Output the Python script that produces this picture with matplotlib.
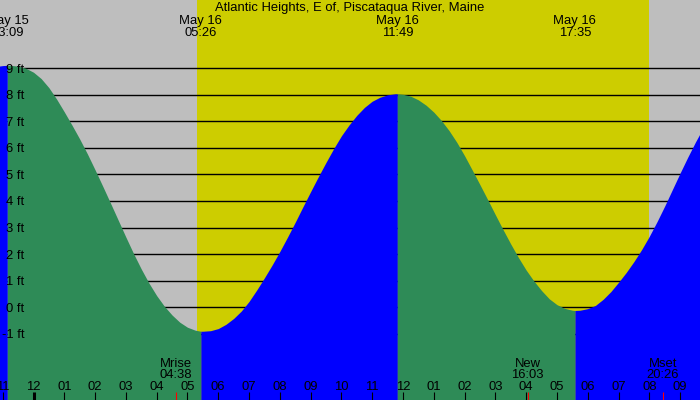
import numpy as np
import matplotlib
matplotlib.use("Agg")
import matplotlib.pyplot as plt
import matplotlib.transforms as mtransforms

plt.rcParams['font.family'] = ['Liberation Sans', 'DejaVu Sans']
plt.rcParams['font.size'] = 9.4

station = "Atlantic Heights, E of, Piscataqua River, Maine"

# tide heights (ft) read every 15 minutes, from May 15 22:30 to May 16 22:00
heights = [9.0, 9.05, 9.09, 9.1, 9.07, 8.99, 8.84,
           8.60, 8.26, 7.83, 7.35, 6.85, 6.33, 5.77, 5.17, 4.55, 3.92, 3.28,
           2.64, 2.02, 1.44, 0.91, 0.44, 0.04, -0.29, -0.56, -0.75, -0.86, -0.9,
           -0.88, -0.8, -0.64, -0.42, -0.14, 0.22, 0.65, 1.11, 1.59, 2.1, 2.64,
           3.2, 3.78, 4.35, 4.91, 5.45, 5.97, 6.45, 6.86, 7.22, 7.52, 7.75, 7.9,
           7.99, 8.03,
           8.01, 7.94, 7.80, 7.60, 7.34, 7.02, 6.64, 6.2, 5.7, 5.16, 4.61, 4.05,
           3.48, 2.92, 2.38, 1.87, 1.4, 0.99, 0.63, 0.32, 0.10, -0.04, -0.11,
           -0.11, -0.05, 0.07, 0.3, 0.59, 0.94, 1.31, 1.72, 2.17, 2.67, 3.22,
           3.81, 4.43, 5.05, 5.65, 6.22, 6.75, 7.24]
hours = np.arange(len(heights)) * 0.25 - 1.5   # hours from May 16 00:00

# high / low tides
ext_dates = ["May 15", "May 16", "May 16", "May 16"]
ext_times = ["23:09", "05:26", "11:49", "17:35"]
ext_heights = [9.1, -0.9, 8.03, -0.12]

# moon events
moon_names = ["Mrise", "New", "Mset"]
moon_times = ["04:38", "16:03", "20:26"]

sunrise = "05:19"
sunset = "20:00"

ft_levels = list(range(-1, 10))
hour_ticks = list(range(-1, 22))


def to_hours(hhmm, date="May 16"):
    h, m = hhmm.split(":")
    val = int(h) + int(m) / 60.0
    if date == "May 15":
        val -= 24
    return val


ext_hours = [to_hours(t, d) for t, d in zip(ext_times, ext_dates)]

t_all = np.concatenate([hours, ext_hours])
h_all = np.concatenate([heights, ext_heights])
order = np.argsort(t_all)
t_all = t_all[order]
h_all = h_all[order]

x_left, x_right = -1.088, 21.646
y_bot, y_top = -3.486, 11.557

fig = plt.figure(figsize=(7, 4), dpi=100)
ax = fig.add_axes([0, 0, 1, 1])
ax.set_xlim(x_left, x_right)
ax.set_ylim(y_bot, y_top)
ax.axis("off")

# night / day background
ax.axvspan(x_left, x_right, color="#bebebe", zorder=0, lw=0)
ax.axvspan(to_hours(sunrise), to_hours(sunset), color="#cdcd00", zorder=0, lw=0)

for lev in ft_levels:
    ax.axhline(lev, color="black", lw=1.0, zorder=1)

# rising = blue, falling = green
bounds = [x_left - 1] + ext_hours + [x_right + 1]
for i in range(len(bounds) - 1):
    m = (t_all >= bounds[i]) & (t_all <= bounds[i + 1])
    tt, hh = t_all[m], h_all[m]
    col = "#0000ff" if hh[-1] > hh[0] else "#2e8b57"
    ax.fill_between(tt, hh, y_bot - 1, color=col, lw=0, zorder=2)

ytrans = mtransforms.blended_transform_factory(ax.transAxes, ax.transData)
for lev in ft_levels:
    ax.text(24 / 700, lev - 0.17, "%d ft" % lev, transform=ytrans,
            ha="right", va="baseline", zorder=5)

trans = mtransforms.blended_transform_factory(ax.transData, ax.transAxes)

ax.text(0.5, 1 - 11 / 400, station, transform=ax.transAxes,
        ha="center", va="baseline", zorder=5)
for d, t, x in zip(ext_dates, ext_times, ext_hours):
    ax.text(x, 1 - 24 / 400, d, transform=trans, ha="center", va="baseline", zorder=5)
    ax.text(x, 1 - 36 / 400, t, transform=trans, ha="center", va="baseline", zorder=5)

# hour ticks
for hr in hour_ticks:
    lab = "%02d" % ((hr % 12) or 12)
    lw = 2.2 if hr == 0 else 0.8
    ax.plot([hr, hr], [0, 8 / 400], transform=trans, color="black", lw=lw,
            solid_capstyle="butt", zorder=4)
    ax.text(hr, 10 / 400, lab, transform=trans, ha="center", va="baseline", zorder=5)

for name, t in zip(moon_names, moon_times):
    x = to_hours(t)
    ax.plot([x, x], [0, 8 / 400], transform=trans, color="red", lw=0.8,
            solid_capstyle="butt", zorder=4)
    ax.text(x, 33 / 400, name, transform=trans, ha="center", va="baseline", zorder=5)
    ax.text(x, 22 / 400, t, transform=trans, ha="center", va="baseline", zorder=5)

fig.savefig("out.png", dpi=100)
